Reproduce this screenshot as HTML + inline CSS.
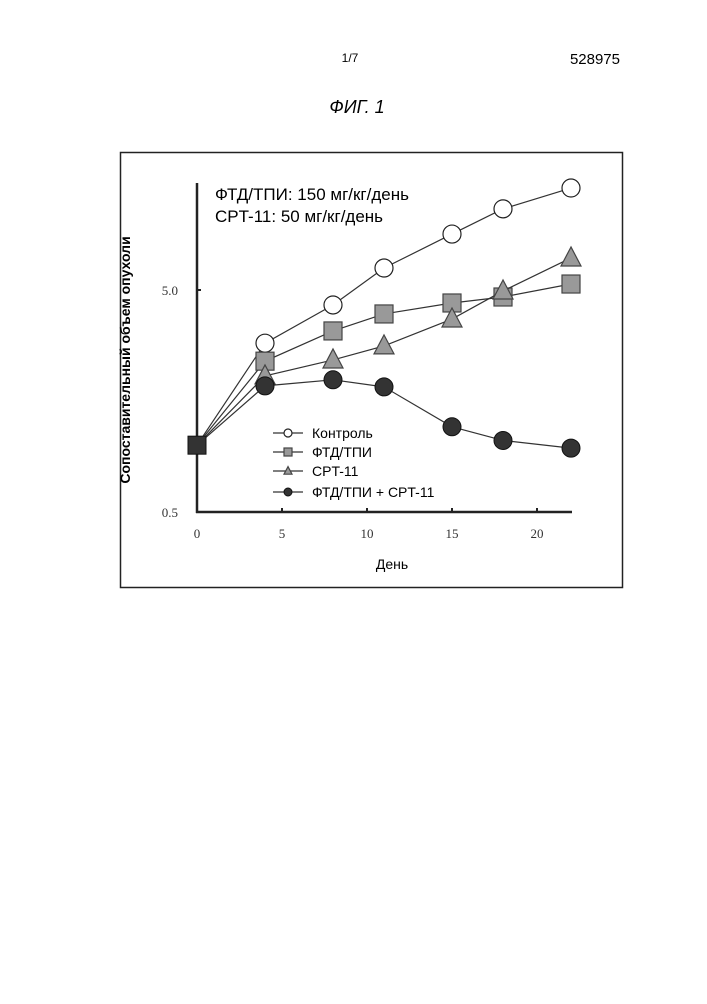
<!DOCTYPE html>
<html><head><meta charset="utf-8"><style>
body{margin:0;background:#fff;width:707px;height:999px;overflow:hidden;font-family:"Liberation Sans",sans-serif}
</style></head><body>
<svg width="707" height="999" xmlns="http://www.w3.org/2000/svg">
<text x="350" y="62" font-size="12" text-anchor="middle" font-family="Liberation Sans">1/7</text>
<text x="620" y="64" font-size="15" text-anchor="end" font-family="Liberation Sans">528975</text>
<text x="357" y="113" font-size="18" font-style="italic" text-anchor="middle" font-family="Liberation Sans">ФИГ. 1</text>
<rect x="120.5" y="152.5" width="502" height="435" fill="none" stroke="#222" stroke-width="1.5"/>
<g id="chart"></g>
</svg>
<script>
const days=[0,4,8,11,15,18,22];
const control=[1.0,2.88,4.28,6.28,8.93,11.6,14.4];
const ftd=[1.0,2.39,3.27,3.9,4.37,4.65,5.32];
const cpt=[1.0,2.05,2.42,2.8,3.7,4.95,6.97];
const combo=[1.0,1.85,1.97,1.83,1.21,1.05,0.97];
const xTicks=[0,5,10,15,20];
const yTicks=[0.5,5.0];
const NS="http://www.w3.org/2000/svg";
const g=document.getElementById('chart');
const X0=197,PXD=17,Y0=512,PXDEC=222;
function xs(d){return X0+d*PXD;}
function ys(v){return Y0-PXDEC*Math.log10(v/0.5);}
function mk(t,a,p){const e=document.createElementNS(NS,t);for(const k in a)e.setAttribute(k,a[k]);(p||g).appendChild(e);return e;}
// axes
let ax=mk('line',{x1:X0,y1:183,x2:X0,y2:Y0+1,stroke:'#222','stroke-width':2.5});


ax=mk('line',{x1:X0-1,y1:Y0,x2:572,y2:Y0,stroke:'#222','stroke-width':2.5});


xTicks.forEach(t=>{
 const tk=mk('line',{x1:xs(t),y1:Y0,x2:xs(t),y2:Y0-4,stroke:'#222','stroke-width':2});
 
 
 const tx=mk('text',{x:xs(t),y:538,'font-size':13,'text-anchor':'middle','font-family':'Liberation Serif',fill:'#333'});
 tx.textContent=t;
 
 
});
yTicks.forEach(t=>{
 const tk=mk('line',{x1:X0,y1:ys(t),x2:X0+4,y2:ys(t),stroke:'#222','stroke-width':2});
 
 
 const tx=mk('text',{x:178,y:ys(t)+5,'font-size':13,'text-anchor':'end','font-family':'Liberation Serif',fill:'#333'});
 tx.textContent=t.toFixed(1);
 
 
});
let t=mk('text',{x:392,y:569,'font-size':14,'text-anchor':'middle'});
t.textContent='День';


t=mk('text',{x:0,y:0,'font-size':14,'font-weight':'bold','text-anchor':'middle',transform:'translate(130,360) rotate(-90)'});
t.textContent='Сопоставительный объем опухоли';


t=mk('text',{x:215,y:200,'font-size':17});
t.textContent='ФТД/ТПИ: 150 мг/кг/день';


t=mk('text',{x:215,y:222,'font-size':17});
t.textContent='CPT-11: 50 мг/кг/день';


function marker(type,x,y,s,p){
 if(type==='circle')return mk('circle',{cx:x,cy:y,r:s,fill:'#fff',stroke:'#222','stroke-width':1.2},p);
 if(type==='dot')return mk('circle',{cx:x,cy:y,r:s,fill:'#333',stroke:'#111','stroke-width':1},p);
 if(type==='square')return mk('rect',{x:x-s,y:y-s,width:2*s,height:2*s,fill:'#999',stroke:'#444','stroke-width':1.2},p);
 return mk('polygon',{points:`${x},${y-s*1.1} ${x-s},${y+s*0.8} ${x+s},${y+s*0.8}`,fill:'#999',stroke:'#444','stroke-width':1.2},p);
}
const series=[[control,'circle','control'],[ftd,'square','ftd-tpi'],[cpt,'triangle','cpt-11'],[combo,'dot','ftd-tpi-cpt-11']];
series.forEach(([vals,type,name])=>{
 const sg=mk('g',{});
 
 
 const pl=mk('polyline',{points:vals.map((v,i)=>xs(days[i])+','+ys(v)).join(' '),fill:'none',stroke:'#333','stroke-width':1.2},sg);
 
 
 vals.forEach((v,i)=>{
  if(i===0)return;
  const m=marker(type,xs(days[i]),ys(v),type==='triangle'?10:9,sg);
  
  
 });
});
const s0=mk('rect',{x:xs(0)-9,y:ys(1)-9,width:18,height:18,fill:'#333',stroke:'#111'});


const labels=['Контроль','ФТД/ТПИ','CPT-11','ФТД/ТПИ + CPT-11'];
const lys=[433,452,471,492];
series.forEach(([v,type,name],i)=>{
 const lg=mk('g',{});
 
 
 mk('line',{x1:273,y1:lys[i],x2:303,y2:lys[i],stroke:'#333','stroke-width':1.2},lg);
 marker(type,288,lys[i],4,lg);
 const tx=mk('text',{x:312,y:lys[i]+5,'font-size':14},lg);
 tx.textContent=labels[i];
});
</script>
</body></html>
